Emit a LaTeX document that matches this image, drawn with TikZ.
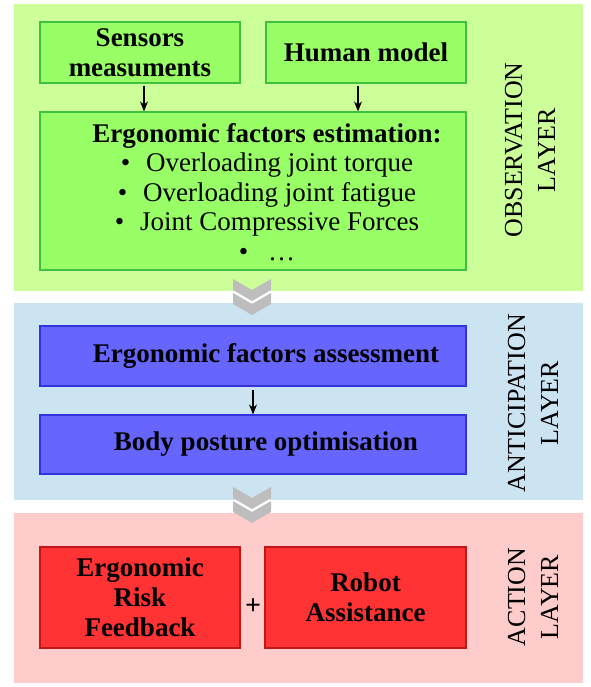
\documentclass[tikz,border=0pt]{standalone}
\usepackage{fontspec}
\setmainfont{Liberation Serif}
\usetikzlibrary{arrows.meta}

\definecolor{obsbg}{HTML}{CCFF99}
\definecolor{obsbox}{HTML}{99FF66}
\definecolor{obsline}{HTML}{40C040}
\definecolor{antbg}{HTML}{CCE4F2}
\definecolor{antbox}{HTML}{6666FF}
\definecolor{antline}{HTML}{3333DD}
\definecolor{actbg}{HTML}{FFCCCC}
\definecolor{actbox}{HTML}{FF3333}
\definecolor{actline}{HTML}{C01818}
\definecolor{chev}{HTML}{BDBDBD}

\begin{document}
\begin{tikzpicture}[x=1pt, y=-1pt,
  layer/.style={rectangle, inner sep=0pt, minimum width=569pt},
  box/.style={rectangle, draw, line width=1.2pt, inner sep=0pt, align=center, font=\fontsize{27}{30}\selectfont\bfseries},
  boldtxt/.style={align=center, inner sep=0pt, font=\fontsize{27}{30}\selectfont\bfseries},
  txt/.style={align=center, inner sep=0pt, font=\fontsize{27}{29.5}\selectfont},
  lbl/.style={rotate=90, align=center, inner sep=0pt, font=\fontsize{26}{33}\selectfont},
  arr/.style={-{Stealth[length=10pt, width=8pt]}, line width=1.4pt}]

\useasboundingbox (0,0) rectangle (590,687);

% layers
\node[layer, fill=obsbg, minimum height=287pt] (obs) at (298.5,147.5) {};
\node[layer, fill=antbg, minimum height=197pt] (ant) at (298.5,401.5) {};
\node[layer, fill=actbg, minimum height=170pt] (act) at (298.5,598) {};

% observation
\node[box, fill=obsbox, draw=obsline, minimum width=200pt, minimum height=61pt] (sens) at (140,52.5) {Sensors\\measuments};
\node[box, fill=obsbox, draw=obsline, minimum width=200pt, minimum height=61pt] (human) at (366,52.5) {Human model};
\node[box, fill=obsbox, draw=obsline, minimum width=426pt, minimum height=158pt] (est) at (253,191) {};
\node[txt] (estT) at (267,192) {\textbf{Ergonomic factors estimation:}\\
  \textbullet\hspace{16pt}Overloading joint torque\\
  \textbullet\hspace{16pt}Overloading joint fatigue\\
  \textbullet\hspace{16pt}Joint Compressive Forces\\
  \textbullet\hspace{20pt}\dots};

\draw[arr] ([xshift=4pt, yshift=-2pt]sens.south) -- ([xshift=4pt]sens.south |- est.north);
\draw[arr] ([xshift=-8pt, yshift=-2pt]human.south) -- ([xshift=-8pt]human.south |- est.north);

\node[lbl] (obsL) at (530,150) {OBSERVATION\\LAYER};

% anticipation
\node[box, fill=antbox, draw=antline, minimum width=426pt, minimum height=60pt] (assess) at (253,356) {};
\node[boldtxt] (assessT) at (266,356) {Ergonomic factors assessment};
\node[box, fill=antbox, draw=antline, minimum width=426pt, minimum height=59pt] (body) at (253,444.5) {};
\node[boldtxt] (bodyT) at (266,444.5) {Body posture optimisation};

\draw[arr] ([yshift=-3pt]assess.south) -- (body.north);

\node[lbl] (antL) at (533,403) {ANTICIPATION\\LAYER};

% action
\node[box, fill=actbox, draw=actline, minimum width=200pt, minimum height=101pt] (risk) at (140,597.5) {Ergonomic\\Risk\\Feedback};
\node[box, fill=actbox, draw=actline, minimum width=201pt, minimum height=101pt] (robot) at (365.5,597.5) {Robot\\Assistance};
\node[font=\fontsize{28}{28}\selectfont\bfseries, inner sep=0pt] (plus) at (253,607) {+};

\node[lbl] (actL) at (533,597) {ACTION\\LAYER};

% chevrons
\foreach \cy in {279,487} {
  \foreach \dy in {0,14} {
    \fill[chev] (233,{\cy+\dy}) -- (252,{\cy+\dy+11}) -- (271,{\cy+\dy}) -- (271,{\cy+\dy+11})
      -- (252,{\cy+\dy+22}) -- (233,{\cy+\dy+11}) -- cycle;
  }
}

\end{tikzpicture}
\end{document}
